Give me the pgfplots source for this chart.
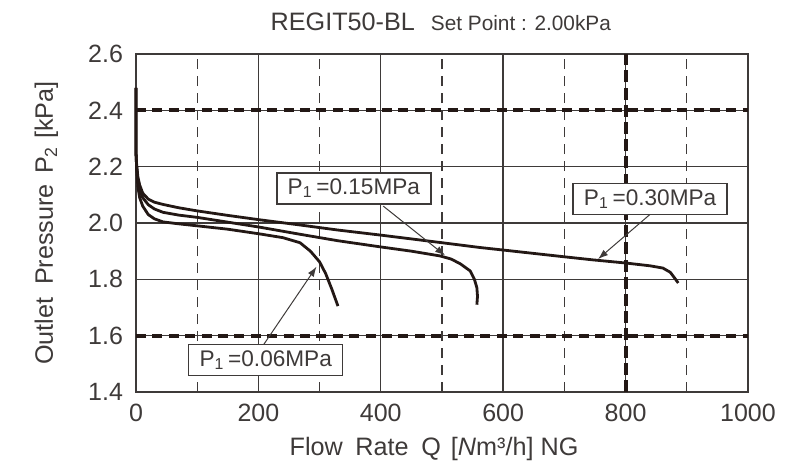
\documentclass[border=0pt]{standalone}
\usepackage{fontspec}
\setmainfont{Liberation Sans}
\usepackage{pgfplots}
\pgfplotsset{compat=1.18}
\usetikzlibrary{arrows.meta}
\definecolor{ink}{HTML}{231815}
\definecolor{gridc}{HTML}{3E3A39}
\definecolor{txt}{HTML}{3E3A39}
\begin{document}
\begin{tikzpicture}
\useasboundingbox (-68pt,-35pt) rectangle (326pt,196pt);
\begin{axis}[
 scale only axis, width=306pt, height=169pt,
 xmin=0, xmax=1000, ymin=1.4, ymax=2.6,
 xtick={0,200,400,600,800,1000}, minor xtick={100,300,500,700,900},
 ytick={1.4,1.6,1.8,2.0,2.2,2.4,2.6},
 /pgf/number format/assume math mode=true,
 /pgf/number format/1000 sep={},
 y tick label style={/pgf/number format/fixed,/pgf/number format/fixed zerofill,/pgf/number format/precision=1},
 grid=both,
 major grid style={gridc,line width=0.7pt},
 minor grid style={gridc,line width=0.6pt,dash pattern=on 5pt off 3.5pt},
 tick style={draw=none},
 axis line style={gridc,line width=0.8pt},
 tick label style={font=\fontsize{12.5}{14}\selectfont,text=txt},
 xticklabel style={yshift=-2.5pt},
 yticklabel style={xshift=-3pt},
 clip=false,
]
% thick dashed reference lines
\draw[ink,line width=2pt,dash pattern=on 5pt off 3.2pt] (axis cs:0,2.4) -- (axis cs:1000,2.4);
\draw[ink,line width=2pt,dash pattern=on 5pt off 3.2pt] (axis cs:0,1.6) -- (axis cs:1000,1.6);
\draw[ink,line width=2pt,dash pattern=on 6pt off 2.6pt] (axis cs:800,1.4) -- (axis cs:800,2.6);

% P1 = 0.06 MPa
\addplot[ink,line width=1.4pt,line join=round] coordinates {
(0,2.48)(0,2.25)(1,2.2)(3,2.13)(6,2.09)(11,2.06)(20,2.03)(30,2.015)(44,2.004)(70,1.997)(100,1.99)(150,1.978)(200,1.962)(240,1.948)(268,1.93)(285,1.9)(300,1.862)(310,1.82)(320,1.765)(330,1.705)};
% P1 = 0.15 MPa
\addplot[ink,line width=1.4pt,line join=round] coordinates {
(0,2.48)(0,2.25)(1,2.2)(3,2.15)(6,2.115)(11,2.09)(20,2.065)(30,2.05)(44,2.038)(70,2.028)(100,2.02)(150,2.003)(200,1.986)(268,1.96)(330,1.937)(400,1.915)(450,1.9)(497,1.883)(515,1.872)(530,1.855)(546,1.83)(553,1.80)(557,1.77)(558,1.74)(557,1.71)};
% P1 = 0.30 MPa
\addplot[ink,line width=1.4pt,line join=round] coordinates {
(0,2.48)(0,2.25)(1,2.21)(3,2.165)(6,2.135)(11,2.106)(20,2.085)(30,2.074)(44,2.066)(70,2.054)(100,2.043)(150,2.027)(200,2.012)(268,1.993)(330,1.975)(400,1.957)(500,1.93)(562,1.913)(600,1.904)(700,1.88)(747,1.869)(800,1.858)(840,1.848)(861,1.84)(873,1.825)(880,1.805)(886,1.787)};

% annotations
\tikzset{lbl/.style={draw=gridc,line width=0.7pt,fill=white,text=txt,font=\fontsize{11.3}{13}\selectfont,minimum width=77pt,minimum height=15.5pt,inner sep=0pt},
 arr/.style={gridc,line width=0.5pt,-{Latex[length=5pt,width=3.5pt]}}}
\draw[arr] (axis cs:404,2.06) -- (axis cs:505,1.885);
\draw[arr] (axis cs:845,2.04) -- (axis cs:755,1.872);
\draw[arr] (axis cs:206,1.56) -- (axis cs:295,1.845);
\node[lbl] at (axis cs:356,2.123) {P\textsubscript{1}\,=0.15MPa};
\node[lbl] at (axis cs:840,2.085) {P\textsubscript{1}\,=0.30MPa};
\node[lbl] at (axis cs:212,1.514) {P\textsubscript{1}\,=0.06MPa};

% titles and labels
\node[anchor=base,text=txt] at ([yshift=12pt]rel axis cs:0.498,1)
 {{\fontsize{12.6}{14}\selectfont REGIT50-BL}\hspace{0.8em}{\fontsize{10.4}{12}\selectfont Set Point : 2.00kPa}};
\node[anchor=base,text=txt,font=\fontsize{12.6}{14}\selectfont] at ([yshift=-31.5pt]rel axis cs:0.487,0)
 {Flow\hspace{0.5em}Rate\hspace{0.5em}Q\hspace{0.4em}[\textit{N}m³/h] NG};
\node[anchor=base,rotate=90,text=txt,font=\fontsize{12.6}{14}\selectfont] at ([xshift=-41.5pt]rel axis cs:0,0.5)
 {Outlet\hspace{0.5em}Pressure\hspace{0.4em}P\textsubscript{2}\hspace{0.3em}[kPa]};
\end{axis}
\end{tikzpicture}
\end{document}
